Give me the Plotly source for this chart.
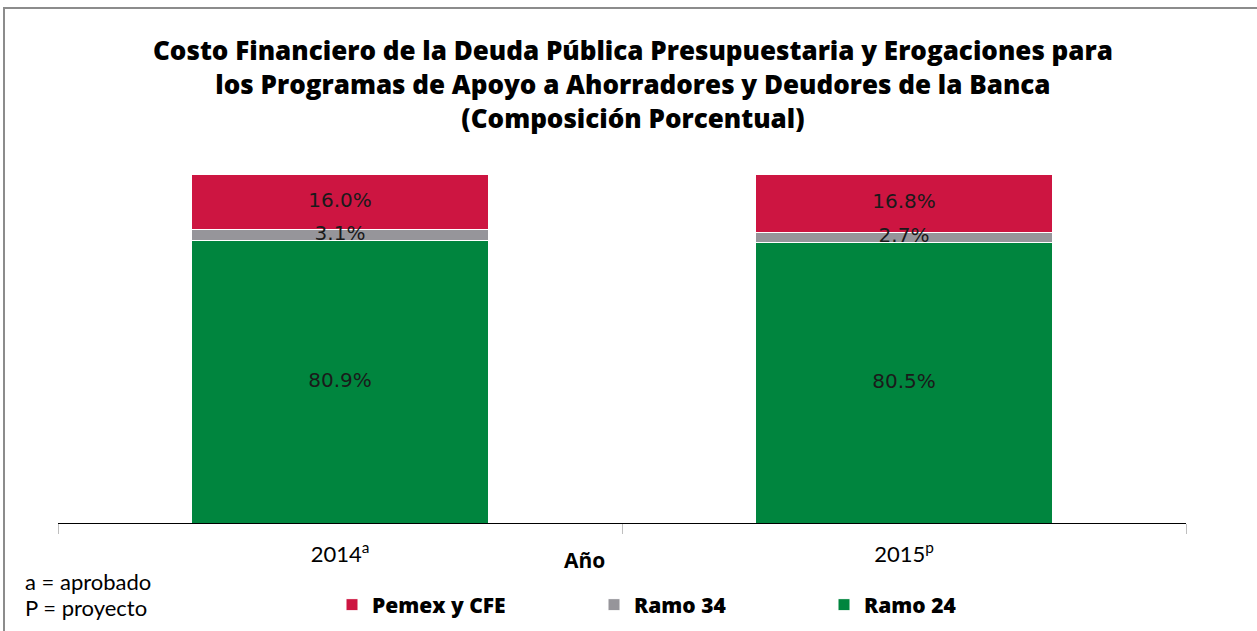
import plotly.graph_objects as go

categories = ["2014<sup>a</sup>", "2015<sup>p</sup>"]
ramo24 = [80.9, 80.5]
ramo34 = [3.1, 2.7]
pemex_cfe = [16.0, 16.8]

series = [
    ("Ramo 24", ramo24, "#00853E"),
    ("Ramo 34", ramo34, "#96959A"),
    ("Pemex y CFE", pemex_cfe, "#CD1541"),
]

title_lines = [
    "Costo Financiero de la Deuda Pública Presupuestaria y Erogaciones para",
    "los Programas de Apoyo a Ahorradores y Deudores de la Banca",
    "(Composición Porcentual)",
]

W, H = 1257, 631
L, R, T, B = 58, 71, 174, 108
pw, ph = W - L - R, H - T - B

def px_x(x):
    return (x - L) / pw

def px_y(y):
    return (H - B - y) / ph

fig = go.Figure()
legend_names = {"Pemex y CFE": "legend", "Ramo 34": "legend2", "Ramo 24": "legend3"}
for name, vals, color in series:
    fig.add_trace(go.Bar(
        x=categories, y=vals, name=name,
        marker=dict(color=color, line=dict(color="white", width=1)),
        width=0.525, legend=legend_names[name], hoverinfo="skip",
    ))

# data labels at segment centers
base = [0.0] * len(categories)
lx, ly, lt = [], [], []
for name, vals, color in series:
    for i, v in enumerate(vals):
        lx.append(categories[i])
        ly.append(base[i] + v / 2)
        lt.append(f"{v:.1f}%")
        base[i] += v
fig.add_trace(go.Scatter(
    x=lx, y=ly, text=lt, mode="text", showlegend=False,
    textfont=dict(family="DejaVu Sans", size=20, color="#1a1a1a"),
    hoverinfo="skip",
))

leg_common = dict(orientation="h", bgcolor="rgba(0,0,0,0)",
                  font=dict(family="Open Sans", size=21, color="#000000", weight=800),
                  yanchor="middle", xanchor="left", itemwidth=30)

annotations = [
    dict(text="<br>".join(title_lines), x=px_x(633), y=px_y(84), xref="paper", yref="paper",
         showarrow=False, xanchor="center", yanchor="middle", align="center",
         font=dict(family="Open Sans", size=26, color="#000000", weight=800)),
    dict(text="<b>Año</b>", x=px_x(584), y=px_y(560), xref="paper", yref="paper",
         showarrow=False, font=dict(family="Open Sans", size=21, color="#000000"),
         xanchor="center", yanchor="middle"),
    dict(text="a = aprobado", x=px_x(23), y=px_y(581), xref="paper", yref="paper",
         showarrow=False, font=dict(family="Lato", size=22, color="#000000"),
         xanchor="left", yanchor="middle"),
    dict(text="P = proyecto", x=px_x(23), y=px_y(607), xref="paper", yref="paper",
         showarrow=False, font=dict(family="Lato", size=22, color="#000000"),
         xanchor="left", yanchor="middle"),
]

fig.update_layout(
    width=W, height=H,
    margin=dict(l=L, r=R, t=T, b=B, autoexpand=False),
    barmode="stack",
    plot_bgcolor="white", paper_bgcolor="white",
    showlegend=True,
    legend=dict(**leg_common, x=px_x(332), y=px_y(605)),
    legend2=dict(**leg_common, x=px_x(594), y=px_y(605)),
    legend3=dict(**leg_common, x=px_x(824), y=px_y(605)),
    xaxis=dict(
        showline=True, linecolor="#000000", linewidth=1,
        ticks="outside", tickson="boundaries", ticklen=10, tickcolor="#BFBFBF",
        tickfont=dict(family="Lato", size=22, color="#000000"),
        ticklabelstandoff=12,
        showgrid=False, fixedrange=True,
    ),
    yaxis=dict(range=[0, 100], visible=False, showgrid=False, fixedrange=True),
    annotations=annotations,
    shapes=[
        dict(type="rect", xref="paper", yref="paper",
             x0=px_x(4), x1=px_x(1265), y0=px_y(8), y1=px_y(640),
             line=dict(color="#8C8C8C", width=2), fillcolor="rgba(0,0,0,0)", layer="below"),
    ],
)

fig.write_html("out.html", config={"displayModeBar": False},
               post_script="document.body.style.margin='0px';")
